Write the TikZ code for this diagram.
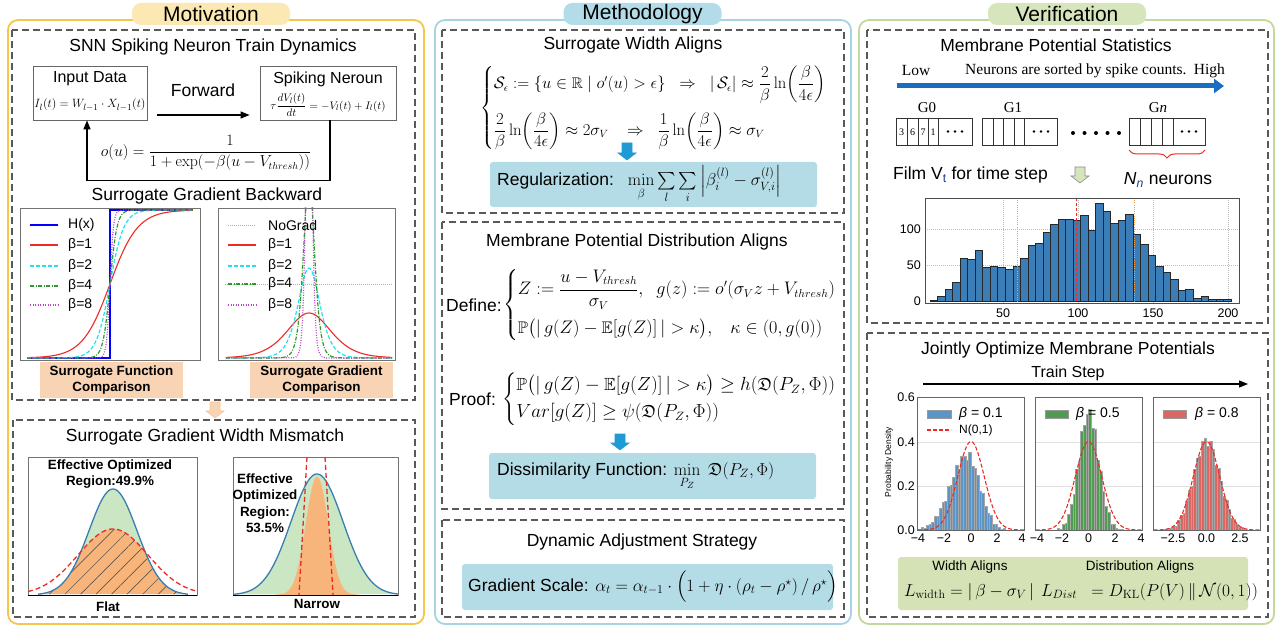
\documentclass[tikz,border=0pt]{standalone}
\usepackage{amsmath,amssymb}
\usepackage[no-math]{fontspec}
\setmainfont{Liberation Sans}
\newfontfamily\serifA{Liberation Serif}
\usetikzlibrary{arrows.meta,decorations.pathreplacing,patterns.meta}
\definecolor{motivc}{HTML}{F6C64A}
\definecolor{motivtab}{HTML}{FCE8B2}
\definecolor{methc}{HTML}{A6D4E4}
\definecolor{methtab}{HTML}{B2DCE8}
\definecolor{verc}{HTML}{C3D99C}
\definecolor{vertab}{HTML}{D7E5BD}
\definecolor{peach}{HTML}{F9D4B4}
\definecolor{lblue}{HTML}{B4DCE6}
\definecolor{lgreen}{HTML}{D4E2B5}
\definecolor{arrblue}{HTML}{1E9AD6}
\definecolor{bigblue}{HTML}{1B6DC0}
\definecolor{histblue}{HTML}{3A7DB7}
\definecolor{gfill}{HTML}{CBE6C3}
\definecolor{gline}{HTML}{3A7EB0}
\definecolor{ofill}{HTML}{F7B57B}
\definecolor{cyanc}{HTML}{22E0EE}
\definecolor{greenc}{HTML}{2E9A2E}
\definecolor{purpc}{HTML}{BB44CC}
\definecolor{redc}{HTML}{EE2A24}
\definecolor{p1c}{HTML}{5A95C9}
\definecolor{p2c}{HTML}{4F9B4F}
\definecolor{p3c}{HTML}{DC6662}
\definecolor{tcol}{HTML}{1F3C88}
\definecolor{orgc}{HTML}{F39C4A}
\newcommand\szTitle{\fontsize{21}{24}\selectfont}
\newcommand\szSub{\fontsize{17.5}{21}\selectfont}
\newcommand\szBold{\fontsize{13.4}{16.5}\selectfont\bfseries}
\newcommand\szLeg{\fontsize{14}{16}\selectfont}
\newcommand\szTick{\fontsize{12.5}{14}\selectfont}
\newcommand\blkarr[5]{\filldraw[fill=#4,draw=#5,line width=0.6pt] (#1-5,#2) -- (#1+5,#2) -- (#1+5,#3-7) -- (#1+9,#3-7) -- (#1,#3) -- (#1-9,#3-7) -- (#1-5,#3-7) -- cycle;}
\begin{document}
\begin{tikzpicture}[x=1pt,y=-1pt,
  declare function={sig(\z)=1/(1+exp(-max(-9,min(9,\z)))); dsig(\z)=sig(\z)*(1-sig(\z));},
  dbox/.style={draw=black!65,line width=1.1pt,dash pattern=on 7pt off 4pt},
  tab/.style={rounded corners=9pt,minimum width=158pt,minimum height=22pt,inner sep=0pt,font=\szTitle},
  sub/.style={inner sep=0pt,font=\szSub},
  frm/.style={draw=black!55,line width=0.7pt},
  c1/.style={redc,line width=1.1pt},
  c2/.style={cyanc,line width=1.2pt,dash pattern=on 4pt off 2pt},
  c4/.style={greenc,line width=1.2pt,dash pattern=on 4pt off 1.5pt on 1pt off 1.5pt},
  c8/.style={purpc,line width=1.2pt,dash pattern=on 1pt off 1.5pt},
  ng/.style={blue!35,line width=0.6pt,dash pattern=on 1pt off 1pt},
  peachbox/.style={fill=peach,minimum width=143pt,minimum height=36pt,align=center,font=\szBold,inner sep=0pt},
  bluebox/.style={fill=lblue,rounded corners=3pt,inner sep=0pt},
  arr/.style={line width=1.3pt,-{Triangle[length=9pt,width=7pt]}},
  leg/.style={anchor=west,inner sep=0pt,font=\szLeg},
  tick/.style={inner sep=0pt,font=\szTick},
  bold/.style={inner sep=0pt,align=center,font=\szBold},
]
\useasboundingbox (0,0) rectangle (1278,628);
% ---------------- outer panels ----------------
\draw[motivc,line width=1.8pt,rounded corners=10pt] (8,20) rectangle (424,624);
\draw[methc,line width=1.8pt,rounded corners=10pt] (435,20) rectangle (851,624);
\draw[verc,line width=1.8pt,rounded corners=10pt] (859,20) rectangle (1274,624);
\node[tab,fill=motivtab] (tabM) at (211,14) {Motivation};
\node[tab,fill=methtab] (tabT) at (642.5,14) {Methodology};
\node[tab,fill=vertab] (tabV) at (1067,14) {Verification};
% dashed boxes
\draw[dbox] (12,30) rectangle (415,400);
\draw[dbox] (13,420) rectangle (415,617);
\draw[dbox] (442,30) rectangle (844,213);
\draw[dbox] (442,222) rectangle (844,509);
\draw[dbox] (442,520) rectangle (844,617);
\draw[dbox] (867,30) rectangle (1268,323);
\draw[dbox] (867,333) rectangle (1268,617);
% ================= MOTIVATION =================
\node[sub] (tA) at (213,47) {SNN Spiking Neuron Train Dynamics};
\node[draw=black!60,line width=0.8pt,minimum width=114pt,minimum height=54pt] (inp) at (90,93) {};
\node[inner sep=0pt,font=\fontsize{16}{18}\selectfont] (inpT) at (90,79) {Input Data};
\node[inner sep=0pt,font=\fontsize{13}{15}\selectfont] (inpF) at (90,105) {$I_l(t)=W_{l-1}\cdot X_{l-1}(t)$};
\node[draw=black!60,line width=0.8pt,minimum width=136pt,minimum height=54pt] (spk) at (328,93) {};
\node[inner sep=0pt,font=\fontsize{16}{18}\selectfont] (spkT) at (328,79) {Spiking Neroun};
\node[inner sep=0pt,font=\fontsize{11}{13}\selectfont] (spkF) at (328,105) {$\tau\dfrac{dV_l(t)}{dt}=-V_l(t)+I_l(t)$};
\node[sub] (fw) at (203,90) {Forward};
\draw[arr] ([xshift=10pt,yshift=-22pt]inp.east) -- ([xshift=-10pt,yshift=-22pt]spk.west);
\draw[arr] ([xshift=2pt]spk.south) -- ++(0,60) -| ([xshift=-3pt]inp.south);
\node[inner sep=0pt,font=\fontsize{16}{18}\selectfont,scale=0.92,transform shape] (ou) at (206,153) {$o(u)=\dfrac{1}{1+\exp(-\beta(u-V_{thresh}))}$};
\node[sub] (tB) at (207,196) {Surrogate Gradient Backward};
% left plot
\draw[frm] (20,208) rectangle (200,360);
\begin{scope}
\clip (20,208) rectangle (200,360);
\draw[blue,line width=2.2pt] (27,358) -- (110,358) -- (110,210) -- (193,210);
\draw[c1] plot[domain=-6:6,samples=121] ({110+13.8*\x},{358-148*sig(\x)});
\draw[c2] plot[domain=-6:6,samples=121] ({110+13.8*\x},{358-148*sig(2*(\x))});
\draw[c4] plot[domain=-6:6,samples=161] ({110+13.8*\x},{358-148*sig(4*(\x))});
\draw[c8] plot[domain=-6:6,samples=201] ({110+13.8*\x},{358-148*sig(8*(\x))});
\end{scope}
\draw[blue,line width=2.2pt] (30,225) -- (58,225); \node[leg] (l0) at (68,225) {H(x)};
\draw[c1] (30,245) -- (58,245); \node[leg] (l1) at (68,245) {β=1};
\draw[c2] (30,266) -- (58,266); \node[leg] (l2) at (68,266) {β=2};
\draw[c4] (30,286) -- (58,286); \node[leg] (l4) at (68,286) {β=4};
\draw[c8] (30,305) -- (58,305); \node[leg] (l8) at (68,305) {β=8};
% right plot
\draw[frm] (218,208) rectangle (395,360);
\begin{scope}
\clip (218,208) rectangle (395,360);
\draw[ng] (225,284) -- (393,284);
\draw[c1] plot[domain=-5.7:5.7,samples=121] ({309+14.6*\x},{358-180*dsig(\x)});
\draw[c2] plot[domain=-5.7:5.7,samples=161] ({309+14.6*\x},{358-360*dsig(2*(\x))});
\draw[c4] plot[domain=-5.7:5.7,samples=201] ({309+14.6*\x},{358-720*dsig(4*(\x))});
\draw[c8] plot[domain=-5.7:5.7,samples=301] ({309+14.6*\x},{358-1440*dsig(8*(\x))});
\end{scope}
\draw[ng] (228,225) -- (256,225); \node[leg] (r0) at (268,225) {NoGrad};
\draw[c1] (228,245) -- (256,245); \node[leg] (r1) at (268,245) {β=1};
\draw[c2] (228,266) -- (256,266); \node[leg] (r2) at (268,266) {β=2};
\draw[c4] (228,284) -- (256,284); \node[leg] (r4) at (268,284) {β=4};
\draw[c8] (228,305) -- (256,305); \node[leg] (r8) at (268,305) {β=8};
\node[peachbox] (pb1) at (111.5,380) {Surrogate Function\\Comparison};
\node[peachbox] (pb2) at (321.5,380) {Surrogate Gradient\\Comparison};
\blkarr{215}{402}{418}{peach}{orgc!60}
% box B
\node[sub] (tC) at (205,437) {Surrogate Gradient Width Mismatch};
\draw[frm] (28,457) rectangle (197,595);
\fill[gfill] plot[domain=-75:75,samples=101] ({113+\x},{595-106*exp(-((\x)*(\x))/1152)}) -- cycle;
\path[preaction={fill=ofill},pattern={Lines[angle=45,distance=11pt,line width=0.5pt]},pattern color=black!75]
  plot[domain=-75:75,samples=101] ({113+\x},{595-min(106*exp(-((\x)*(\x))/1152),66*exp(-((\x)*(\x))/2450))}) -- cycle;
\draw[gline,line width=1.3pt] plot[domain=-75:75,samples=101] ({113+\x},{595-106*exp(-((\x)*(\x))/1152)});
\draw[redc,line width=1.3pt,dash pattern=on 5pt off 3pt] plot[domain=-85:82,samples=101] ({113+\x},{595-66*exp(-((\x)*(\x))/2450)});
\draw[black,line width=0.9pt] (28,595) -- (197,595);
\node[bold] (eff1) at (110,474) {Effective Optimized\\Region:49.9\%};
\node[bold] (flat) at (108,607) {Flat};
\draw[frm] (233,457) rectangle (398,595);
\begin{scope}
\clip (233,457) rectangle (398,595);
\fill[gfill] plot[domain=-84:81,samples=101] ({317+\x},{595-121*exp(-((\x)*(\x))/1352)}) -- cycle;
\filldraw[fill=ofill,draw=orgc!70,line width=0.6pt] plot[domain=-42:42,samples=101] ({317+\x},{595-118*exp(-((\x)*(\x))/242)}) -- cycle;
\draw[gline,line width=1.3pt] plot[domain=-84:81,samples=101] ({317+\x},{595-121*exp(-((\x)*(\x))/1352)});
\end{scope}
\draw[black,line width=0.9pt] (233,595) -- (398,595);
\draw[redc,line width=1.3pt,dash pattern=on 5pt off 3pt] (307,457) -- (299,595);
\draw[redc,line width=1.3pt,dash pattern=on 5pt off 3pt] (325,457) -- (333,595);
\node[bold] (eff2) at (265,503) {Effective\\Optimized\\Region:\\53.5\%};
\node[bold] (narrow) at (317,604) {Narrow};
% ================= METHODOLOGY =================
\node[sub] (tD) at (633,45) {Surrogate Width Aligns};
\node[anchor=west,inner sep=0pt,font=\fontsize{16}{19}\selectfont,scale=0.96,transform shape] (eqW) at (480,108) {$\begin{cases}
\mathcal{S}_\epsilon := \{u\in\mathbb{R}\mid o'(u)>\epsilon\}\;\;\Rightarrow\;\; |\,\mathcal{S}_\epsilon|\approx\dfrac{2}{\beta}\ln\!\left(\dfrac{\beta}{4\epsilon}\right)\\[18pt]
\dfrac{2}{\beta}\ln\!\left(\dfrac{\beta}{4\epsilon}\right)\approx 2\sigma_V\;\;\;\Rightarrow\;\;\dfrac{1}{\beta}\ln\!\left(\dfrac{\beta}{4\epsilon}\right)\approx\sigma_V
\end{cases}$};
\blkarr{627}{143}{160}{arrblue}{arrblue}
\node[bluebox,minimum width=327pt,minimum height=45pt] (reg) at (653.5,184.5) {};
\node[anchor=west,inner sep=0pt,font=\szSub] (regT) at (497,184.5) {Regularization:\hspace{0.8em}$\min\limits_{\beta}\sum\limits_{l}\sum\limits_{i}\left|\beta_i^{(l)}-\sigma_{V,i}^{(l)}\right|$};
\node[sub] (tE) at (637,242) {Membrane Potential Distribution Aligns};
\node[anchor=west,sub] (def) at (446,305) {Define:};
\node[anchor=west,inner sep=0pt,font=\fontsize{16}{19}\selectfont,scale=1.05,transform shape] (eqD) at ([xshift=1pt]def.east) {$\begin{cases}
Z := \dfrac{u-V_{thresh}}{\sigma_V},\;\; g(z) := o'(\sigma_V z+V_{thresh})\\[14pt]
\mathbb{P}\big(|\,g(Z)-\mathbb{E}[g(Z)]\,|>\kappa\big),\;\;\; \kappa\in(0,g(0))
\end{cases}$};
\node[anchor=west,sub] (prf) at (449,399) {Proof:};
\node[anchor=west,inner sep=0pt,font=\fontsize{16}{19}\selectfont,scale=1.1,transform shape] (eqP) at ([xshift=6pt]prf.east) {$\begin{cases}
\mathbb{P}\big(|\,g(Z)-\mathbb{E}[g(Z)]\,|>\kappa\big)\ge h(\mathfrak{D}(P_Z,\Phi))\\[2pt]
Var[g(Z)]\ge\psi(\mathfrak{D}(P_Z,\Phi))
\end{cases}$};
\blkarr{620}{434}{450}{arrblue}{arrblue}
\node[bluebox,minimum width=327pt,minimum height=46pt] (dis) at (652.5,476) {};
\node[anchor=west,inner sep=0pt,font=\szSub] (disT) at (497,476) {Dissimilarity Function: $\displaystyle\min_{P_Z}\ \mathfrak{D}(P_Z,\Phi)$};
\node[sub] (tF) at (642,542) {Dynamic Adjustment Strategy};
\node[bluebox,minimum width=371pt,minimum height=46pt] (grd) at (647.5,587) {};
\node[anchor=west,inner sep=0pt,font=\szSub] (grdT) at (468,587) {Gradient Scale: $\alpha_t=\alpha_{t-1}\cdot\Big(1+\eta\cdot(\rho_t-\rho^{\star})\,/\,\rho^{\star}\Big)$};
% ================= VERIFICATION =================
\node[sub] (tG) at (1056,45) {Membrane Potential Statistics};
\node[inner sep=0pt,font=\serifA\fontsize{15.5}{17}\selectfont] (low) at (916,71) {Low};
\node[anchor=west,inner sep=0pt,font=\serifA\fontsize{15.5}{17}\selectfont] (srt) at (965,71) {Neurons are sorted by spike counts.};
\node[anchor=east,inner sep=0pt,font=\serifA\fontsize{15.5}{17}\selectfont] (high) at (1225,71) {High};
\coordinate (aS) at (897,86);
\coordinate (aE) at (1224,86);
\draw[bigblue,line width=5pt,-{Triangle[length=10pt,width=14pt]}] (aS) -- (aE);
\node[inner sep=0pt,font=\serifA\fontsize{15}{17}\selectfont] (g0) at (927,108) {G0};
\node[inner sep=0pt,font=\serifA\fontsize{15}{17}\selectfont] (g1) at (1013,108) {G1};
\node[inner sep=0pt,font=\serifA\fontsize{15}{17}\selectfont] (gn) at (1158,108) {G\textit{n}};
\draw[black!80,line width=0.7pt] (896,118) rectangle (972,145);
\foreach \x in {907,918,928,938} \draw[black!80,line width=0.7pt] (\x,118) -- (\x,145);
\foreach \x/\d in {901.5/3,912.5/6,923/7,933/1} \node[inner sep=0pt,font=\serifA\fontsize{10}{11}\selectfont] at (\x,132) {\d};
\draw[black!80,line width=0.7pt] (982,118) rectangle (1057,145);
\foreach \x in {993,1003,1014,1024} \draw[black!80,line width=0.7pt] (\x,118) -- (\x,145);
\draw[black!80,line width=0.7pt] (1129,118) rectangle (1205,145);
\foreach \x in {1140,1151,1162,1173} \draw[black!80,line width=0.7pt] (\x,118) -- (\x,145);
\foreach \c in {955,1041,1189} {\foreach \dx in {-7,0,7} \fill (\c+\dx,131.5) circle (1.3pt);}
\foreach \x in {1073,1084.5,1096,1107.5,1119} \fill (\x,133) circle (2pt);
\coordinate (bS) at (1129,150);
\coordinate (bE) at (1205,150);
\draw[redc,line width=1pt,decorate,decoration={brace,mirror,amplitude=8pt}] (bS) -- (bE);
\node[anchor=west,sub] (film) at (893,175) {Film V\textsubscript{\color{tcol}t} for time step};
\node[sub] (nn) at (1168,180) {\textit{N}\textsubscript{\textit{\color{tcol}n}} neurons};
\blkarr{1080}{167}{183}{vertab}{black!45}
% histogram
\draw[black!25,dash pattern=on 1pt off 1pt] (925,265) -- (1239,265) (925,229) -- (1239,229);
\foreach \x in {1003,1078,1153,1228} \draw[black!25,dash pattern=on 1pt off 1pt] (\x,198) -- (\x,303);
\foreach \h [count=\i from 0] in {1,7,17,26,60,58,70,47,48,47,44,49,60,78,80,96,107,114,114,112,119,99,136,125,108,112,121,93,79,63,48,40,30,15,17,4,7,3,2,3}
  \filldraw[fill=histblue,draw=black!85,line width=0.4pt] ({930+7.52*\i},301) rectangle ({930+7.52*(\i+1)},{301-0.72*\h});
\draw[orgc,line width=0.8pt,dash pattern=on 1pt off 1.2pt] (1017,198) -- (1017,303);
\draw[orgc,line width=0.8pt,dash pattern=on 1pt off 1.2pt] (1134,198) -- (1134,303);
\draw[redc,line width=0.9pt,dash pattern=on 3pt off 2pt] (1076,198) -- (1076,303);
\draw[black!70,line width=0.7pt] (925,198) rectangle (1239,303);
\node[tick,anchor=east] (y0) at (921,301) {0};
\node[tick,anchor=east] (y50) at (921,265) {50};
\node[tick,anchor=east] (y100) at (921,229) {100};
\foreach \x/\t in {1003/50,1078/100,1153/150,1228/200} \node[tick] at (\x,313) {\t};
% jointly optimize
\node[sub] (tH) at (1068,350) {Jointly Optimize Membrane Potentials};
\node[inner sep=0pt,font=\fontsize{16}{18}\selectfont] (ts) at (1068,373) {Train Step};
\coordinate (tS) at (923,384);
\coordinate (tE2) at (1248,384);
\draw[black,line width=1.2pt,-{Triangle[length=9pt,width=7pt]}] (tS) -- (tE2);
% panels
\foreach \cx in {971,1088.5,1206.5} {
  \draw[black!12,line width=0.5pt] (\cx-53.5,442) -- (\cx+53.5,442) (\cx-53.5,486) -- (\cx+53.5,486);
}
\begin{scope}
\clip (917,397) rectangle (1024,530);
\foreach \i in {0,...,39} {
  \pgfmathsetmacro\t{-4+0.2*\i+0.1}
  \pgfmathsetmacro\s{ifthenelse(\t<-0.3,1.25,0.95)}
  \pgfmathsetmacro\hh{0.335*exp(-((\t+0.3)*(\t+0.3))/(2*\s*\s))}
  \pgfmathsetmacro\h{max(0,\hh+0.045*sqrt(\hh)*sin(\i*137.5))}
  \filldraw[fill=p1c,draw=black!35,line width=0.25pt] ({971+13.2*(\t-0.1)},530) rectangle ({971+13.2*(\t+0.1)},{530-221.7*\h});
}
\draw[redc,line width=1.1pt,dash pattern=on 4pt off 2pt] plot[domain=-4:4,samples=81] ({971+13.2*\x},{530-88.44*exp(-((\x)*(\x))/2)});
\end{scope}
\begin{scope}
\clip (1035,397) rectangle (1142,530);
\foreach \i in {0,...,39} {
  \pgfmathsetmacro\t{-4+0.2*\i+0.1}
  \pgfmathsetmacro\hh{0.53*exp(-((\t)*(\t))/(2*0.74*0.74))}
  \pgfmathsetmacro\h{max(0,\hh+0.05*sqrt(\hh)*sin(\i*151.3))}
  \filldraw[fill=p2c,draw=black!35,line width=0.25pt] ({1088.5+13.2*(\t-0.1)},530) rectangle ({1088.5+13.2*(\t+0.1)},{530-221.7*\h});
}
\draw[redc,line width=1.1pt,dash pattern=on 4pt off 2pt] plot[domain=-4:4,samples=81] ({1088.5+13.2*\x},{530-88.44*exp(-((\x)*(\x))/2)});
\end{scope}
\begin{scope}
\clip (1153,397) rectangle (1260,530);
\foreach \i in {0,...,39} {
  \pgfmathsetmacro\t{-4+0.2*\i+0.1}
  \pgfmathsetmacro\hh{0.405*exp(-((\t)*(\t))/(2*0.98*0.98))}
  \pgfmathsetmacro\h{max(0,\hh+0.04*sqrt(\hh)*sin(\i*121.7))}
  \filldraw[fill=p3c,draw=black!35,line width=0.25pt] ({1206.5+13.2*(\t-0.1)},530) rectangle ({1206.5+13.2*(\t+0.1)},{530-221.7*\h});
}
\draw[redc,line width=1.1pt,dash pattern=on 4pt off 2pt] plot[domain=-4:4,samples=81] ({1206.5+13.2*\x},{530-88.44*exp(-((\x)*(\x))/2)});
\end{scope}
\draw[black!60,line width=0.7pt] (917,397) rectangle (1024,530);
\draw[black!60,line width=0.7pt] (1035,397) rectangle (1142,530);
\draw[black!60,line width=0.7pt] (1153,397) rectangle (1260,530);
\node[tick,anchor=east] at (915,397) {0.6};
\node[tick,anchor=east] at (915,442) {0.4};
\node[tick,anchor=east] at (915,486) {0.2};
\node[tick,anchor=east] at (915,530) {0.0};
\node[inner sep=0pt,rotate=90,font=\fontsize{8.5}{10}\selectfont] (pd) at (889,462) {Probability Density};
\foreach \x/\t in {918/−4,944/−2,971/0,997/2,1022/4,1037/−4,1062/−2,1088.5/0,1115/2,1141/4,1173/−2.5,1206.5/0.0,1240/2.5}
  \node[tick] at (\x,538) {\t};
\filldraw[fill=p1c,draw=black!40] (927,410) rectangle (951,418); \node[leg] (lp1) at (959,414) {\textit{β} = 0.1};
\draw[redc,line width=1.2pt,dash pattern=on 4pt off 2pt] (927,430) -- (951,430); \node[leg,font=\fontsize{12}{14}\selectfont] (lpn) at (959,430) {N(0,1)};
\filldraw[fill=p2c,draw=black!40] (1045,410) rectangle (1068,418); \node[leg] (lp2) at (1076,414) {\textit{β} = 0.5};
\filldraw[fill=p3c,draw=black!40] (1163,410) rectangle (1186,418); \node[leg] (lp3) at (1195,414) {\textit{β} = 0.8};
% bottom green box
\node[fill=lgreen,rounded corners=3pt,minimum width=350pt,minimum height=53pt,inner sep=0pt] (gbox) at (1073,583.5) {};
\node[inner sep=0pt,font=\fontsize{13.5}{15}\selectfont] (wa) at (970,567) {Width Aligns};
\node[inner sep=0pt,font=\fontsize{13.5}{15}\selectfont] (da) at (1140,567) {Distribution Aligns};
\node[anchor=west,inner sep=0pt,font=\fontsize{17}{19}\selectfont] (lw) at (904,592) {$L_{\mathrm{width}}=|\,\beta-\sigma_V\,|$};
\node[anchor=west,inner sep=0pt,font=\fontsize{17}{19}\selectfont] (ld) at (1041,592) {$L_{Dist}\;\;=D_{\mathrm{KL}}(P(V)\,\|\,\mathcal{N}(0,1))$};
\end{tikzpicture}
\end{document}
